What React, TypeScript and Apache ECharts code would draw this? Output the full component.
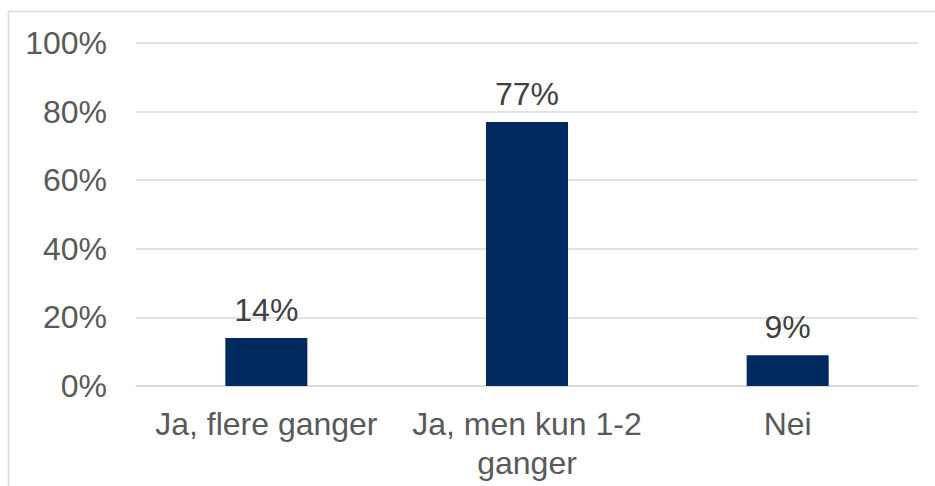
import React, { useEffect, useRef } from "react";
import * as echarts from "echarts";

const categories = ["Ja, flere ganger", "Ja, men kun 1-2\nganger", "Nei"];
const values = [14, 77, 9];
const yTicks = [0, 20, 40, 60, 80, 100];

export default function App() {
  const ref = useRef<HTMLDivElement>(null);
  useEffect(() => {
    if (!ref.current) return;
    const chart = echarts.init(ref.current, undefined, { renderer: "svg" });
    const font = "'Liberation Sans', Arial, sans-serif";
    chart.setOption({
      animation: false,
      backgroundColor: "#ffffff",
      grid: { left: 136, right: 17, top: 43, bottom: 100, containLabel: false },
      graphic: [
        {
          type: "rect",
          shape: { x: 8.5, y: 11.5, width: 1000, height: 1000 },
          style: { fill: "none", stroke: "#d9d9d9", lineWidth: 1.5 },
          silent: true,
        },
      ],
      xAxis: {
        type: "category",
        data: categories,
        axisTick: { show: false },
        axisLine: { show: true, lineStyle: { color: "#d9d9d9", width: 1.5 } },
        axisLabel: {
          interval: 0,
          margin: 18,
          color: "#595959",
          fontFamily: font,
          fontSize: 32,
          lineHeight: 39,
        },
      },
      yAxis: {
        type: "value",
        min: 0,
        max: 100,
        interval: 20,
        axisLine: { show: false },
        axisTick: { show: false },
        splitLine: { lineStyle: { color: "#d9d9d9", width: 1.5 } },
        axisLabel: {
          margin: 29,
          color: "#595959",
          fontFamily: font,
          fontSize: 32,
          formatter: (v: number) => (yTicks.includes(v) ? v + "%" : ""),
        },
      },
      series: [
        {
          type: "bar",
          data: values,
          barWidth: 82,
          itemStyle: { color: "#002960" },
          label: {
            show: true,
            position: "top",
            distance: 12,
            color: "#404040",
            fontFamily: font,
            fontSize: 32,
            formatter: (p: any) => p.value + "%",
          },
        },
      ],
    });
    return () => chart.dispose();
  }, []);
  return (
    <div
      ref={ref}
      style={{ position: "fixed", left: 0, top: 0, width: 935, height: 486 }}
    />
  );
}
